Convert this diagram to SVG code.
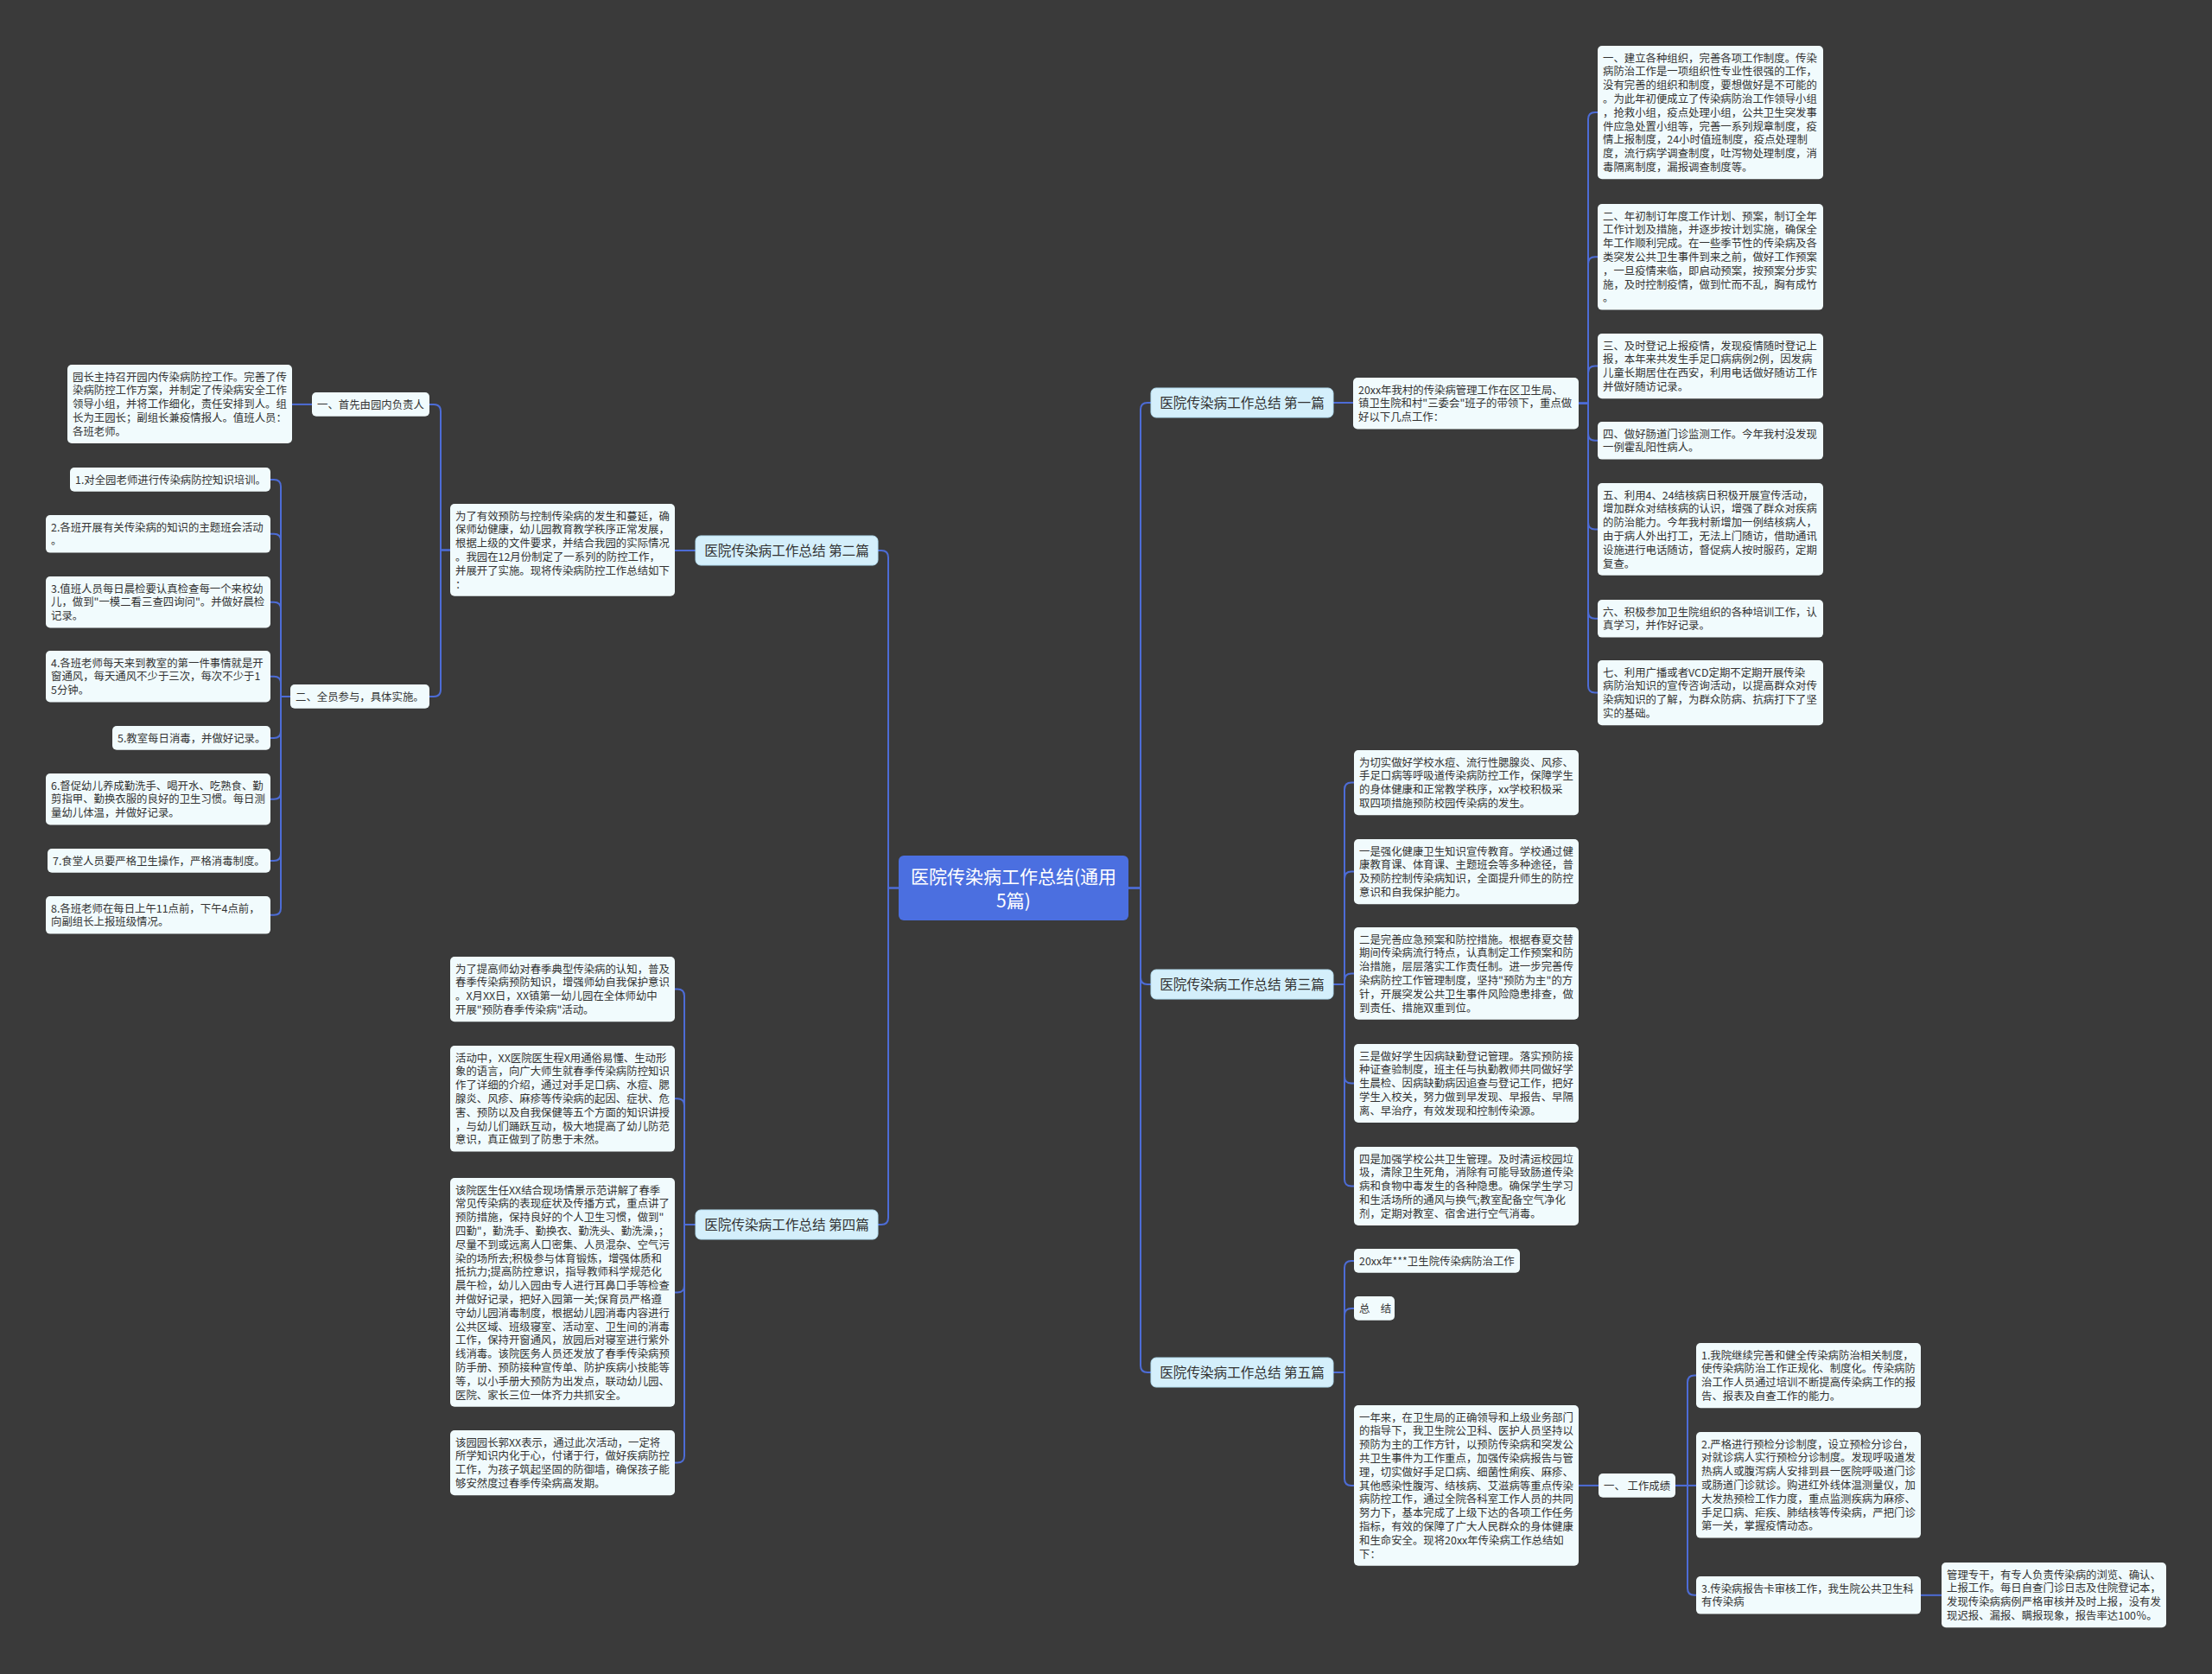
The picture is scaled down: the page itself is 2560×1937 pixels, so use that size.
<svg xmlns="http://www.w3.org/2000/svg" width="2560" height="1937" viewBox="0 0 2560 1937">
<style>
.bg{fill:#3a3a3a}
.box{fill:#f1fbfd}
.l1{fill:#d4effb;stroke:#b5def1;stroke-width:1}
.root{fill:#4b6fe0}
.t{font-family:"Noto Sans CJK SC","Microsoft YaHei",sans-serif;font-size:12.4px;fill:#333}
.tl1{font-family:"Noto Sans CJK SC","Microsoft YaHei",sans-serif;font-size:15.6px;fill:#333;text-anchor:middle}
.troot{font-family:"Noto Sans CJK SC","Microsoft YaHei",sans-serif;font-size:21px;fill:#fff;text-anchor:middle}
.c{fill:none;stroke:#4d6cd6;stroke-width:2}
</style>
<rect class="bg" x="0" y="0" width="2560" height="1937"/>
<g id="connectors">
<path class="c" d="M1306 1027.5 H1320 V474 Q1320 466 1328 466 H1332"/>
<path class="c" d="M1306 1027.5 H1320 V1131 Q1320 1139 1328 1139 H1332"/>
<path class="c" d="M1306 1027.5 H1320 V1580 Q1320 1588 1328 1588 H1332"/>
<path class="c" d="M1040 1027.5 H1028 V645 Q1028 637 1020 637 H1016"/>
<path class="c" d="M1040 1027.5 H1028 V1409 Q1028 1417 1020 1417 H1016"/>
<path class="c" d="M1543 466 H1566"/>
<path class="c" d="M1827 466.7 H1838 V138.1 Q1838 130.1 1846 130.1 H1849"/>
<path class="c" d="M1827 466.7 H1838 V305.3 Q1838 297.3 1846 297.3 H1849"/>
<path class="c" d="M1827 466.7 H1838 V431.6 Q1838 423.6 1846 423.6 H1849"/>
<path class="c" d="M1827 466.7 H1838 V501.8 Q1838 509.8 1846 509.8 H1849"/>
<path class="c" d="M1827 466.7 H1838 V604.4 Q1838 612.4 1846 612.4 H1849"/>
<path class="c" d="M1827 466.7 H1838 V707.8 Q1838 715.8 1846 715.8 H1849"/>
<path class="c" d="M1827 466.7 H1838 V793.6 Q1838 801.6 1846 801.6 H1849"/>
<path class="c" d="M805 637 H781"/>
<path class="c" d="M521 636.4 H510 V475.9 Q510 467.9 502 467.9 H497"/>
<path class="c" d="M521 636.4 H510 V797.9 Q510 805.9 502 805.9 H497"/>
<path class="c" d="M361 467.9 H338"/>
<path class="c" d="M336 805.9 H325 V562.9 Q325 554.9 317 554.9 H313"/>
<path class="c" d="M336 805.9 H325 V625.8 Q325 617.8 317 617.8 H313"/>
<path class="c" d="M336 805.9 H325 V704.7 Q325 696.7 317 696.7 H313"/>
<path class="c" d="M336 805.9 H325 V790.7 Q325 782.7 317 782.7 H313"/>
<path class="c" d="M336 805.9 H325 V845.9 Q325 853.9 317 853.9 H313"/>
<path class="c" d="M336 805.9 H325 V916.7 Q325 924.7 317 924.7 H313"/>
<path class="c" d="M336 805.9 H325 V987.9 Q325 995.9 317 995.9 H313"/>
<path class="c" d="M336 805.9 H325 V1050.8 Q325 1058.8 317 1058.8 H313"/>
<path class="c" d="M805 1417 H792 V1152.6 Q792 1144.6 784 1144.6 H781"/>
<path class="c" d="M805 1417 H792 V1279.3 Q792 1271.3 784 1271.3 H781"/>
<path class="c" d="M805 1417 H792 V1487.4 Q792 1495.4 784 1495.4 H781"/>
<path class="c" d="M805 1417 H792 V1684.6 Q792 1692.6 784 1692.6 H781"/>
<path class="c" d="M1543 1139 H1556 V913.6 Q1556 905.6 1564 905.6 H1567"/>
<path class="c" d="M1543 1139 H1556 V1016.6 Q1556 1008.6 1564 1008.6 H1567"/>
<path class="c" d="M1543 1139 H1556 V1134.4 Q1556 1126.4 1564 1126.4 H1567"/>
<path class="c" d="M1543 1139 H1556 V1245.5 Q1556 1253.5 1564 1253.5 H1567"/>
<path class="c" d="M1543 1139 H1556 V1364.5 Q1556 1372.5 1564 1372.5 H1567"/>
<path class="c" d="M1543 1588 H1556 V1466.9 Q1556 1458.9 1564 1458.9 H1567"/>
<path class="c" d="M1543 1588 H1556 V1521.9 Q1556 1513.9 1564 1513.9 H1567"/>
<path class="c" d="M1543 1588 H1556 V1710.9 Q1556 1718.9 1564 1718.9 H1567"/>
<path class="c" d="M1827 1718.9 H1850"/>
<path class="c" d="M1939 1718.9 H1953 V1599.6 Q1953 1591.6 1961 1591.6 H1963"/>
<path class="c" d="M1939 1718.9 H1963"/>
<path class="c" d="M1939 1718.9 H1953 V1837.8 Q1953 1845.8 1961 1845.8 H1963"/>
<path class="c" d="M2223 1845.8 H2247"/>
</g>

<g id="root">
<rect class="root" x="1040" y="990" width="266" height="75" rx="6"/>
<text class="troot" x="1173" y="1021.7"><tspan x="1173" dy="0">医院传染病工作总结(通用</tspan><tspan x="1173" dy="28">5篇)</tspan></text>
</g>

<g id="n-p1">
<rect class="l1" x="1332" y="449" width="211" height="34" rx="6"/>
<text class="tl1" x="1437.5" y="471.5">医院传染病工作总结 第一篇</text>
</g>
<g id="n-p3">
<rect class="l1" x="1332" y="1122" width="211" height="34" rx="6"/>
<text class="tl1" x="1437.5" y="1144.5">医院传染病工作总结 第三篇</text>
</g>
<g id="n-p5">
<rect class="l1" x="1332" y="1571" width="211" height="34" rx="6"/>
<text class="tl1" x="1437.5" y="1593.5">医院传染病工作总结 第五篇</text>
</g>
<g id="n-p2">
<rect class="l1" x="805" y="620" width="211" height="34" rx="6"/>
<text class="tl1" x="910.5" y="642.5">医院传染病工作总结 第二篇</text>
</g>
<g id="n-p4">
<rect class="l1" x="805" y="1400" width="211" height="34" rx="6"/>
<text class="tl1" x="910.5" y="1422.5">医院传染病工作总结 第四篇</text>
</g>

<g id="n-intro1">
<rect class="box" x="1566" y="437" width="261" height="59.4" rx="5"/>
<text class="t" x="1572" y="455.5"><tspan x="1572" dy="0">20xx年我村的传染病管理工作在区卫生局、</tspan><tspan x="1572" dy="15.8">镇卫生院和村"三委会"班子的带领下，重点做</tspan><tspan x="1572" dy="15.8">好以下几点工作：</tspan></text>
</g>
<g id="n-r1">
<rect class="box" x="1849" y="53" width="261" height="154.2" rx="5"/>
<text class="t" x="1855" y="71.5"><tspan x="1855" dy="0">一、建立各种组织，完善各项工作制度。传染</tspan><tspan x="1855" dy="15.8">病防治工作是一项组织性专业性很强的工作，</tspan><tspan x="1855" dy="15.8">没有完善的组织和制度，要想做好是不可能的</tspan><tspan x="1855" dy="15.8">。为此年初便成立了传染病防治工作领导小组</tspan><tspan x="1855" dy="15.8">，抢救小组，疫点处理小组，公共卫生突发事</tspan><tspan x="1855" dy="15.8">件应急处置小组等，完善一系列规章制度，疫</tspan><tspan x="1855" dy="15.8">情上报制度，24小时值班制度，疫点处理制</tspan><tspan x="1855" dy="15.8">度，流行病学调查制度，吐泻物处理制度，消</tspan><tspan x="1855" dy="15.8">毒隔离制度，漏报调查制度等。</tspan></text>
</g>
<g id="n-r2">
<rect class="box" x="1849" y="236" width="261" height="122.6" rx="5"/>
<text class="t" x="1855" y="254.5"><tspan x="1855" dy="0">二、年初制订年度工作计划、预案，制订全年</tspan><tspan x="1855" dy="15.8">工作计划及措施，并逐步按计划实施，确保全</tspan><tspan x="1855" dy="15.8">年工作顺利完成。在一些季节性的传染病及各</tspan><tspan x="1855" dy="15.8">类突发公共卫生事件到来之前，做好工作预案</tspan><tspan x="1855" dy="15.8">，一旦疫情来临，即启动预案，按预案分步实</tspan><tspan x="1855" dy="15.8">施，及时控制疫情，做到忙而不乱，胸有成竹</tspan><tspan x="1855" dy="15.8">。</tspan></text>
</g>
<g id="n-r3">
<rect class="box" x="1849" y="386" width="261" height="75.2" rx="5"/>
<text class="t" x="1855" y="404.5"><tspan x="1855" dy="0">三、及时登记上报疫情，发现疫情随时登记上</tspan><tspan x="1855" dy="15.8">报，本年来共发生手足口病病例2例，因发病</tspan><tspan x="1855" dy="15.8">儿童长期居住在西安，利用电话做好随访工作</tspan><tspan x="1855" dy="15.8">并做好随访记录。</tspan></text>
</g>
<g id="n-r4">
<rect class="box" x="1849" y="488" width="261" height="43.6" rx="5"/>
<text class="t" x="1855" y="506.5"><tspan x="1855" dy="0">四、做好肠道门诊监测工作。今年我村没发现</tspan><tspan x="1855" dy="15.8">一例霍乱阳性病人。</tspan></text>
</g>
<g id="n-r5">
<rect class="box" x="1849" y="559" width="261" height="106.8" rx="5"/>
<text class="t" x="1855" y="577.5"><tspan x="1855" dy="0">五、利用4、24结核病日积极开展宣传活动，</tspan><tspan x="1855" dy="15.8">增加群众对结核病的认识，增强了群众对疾病</tspan><tspan x="1855" dy="15.8">的防治能力。今年我村新增加一例结核病人，</tspan><tspan x="1855" dy="15.8">由于病人外出打工，无法上门随访，借助通讯</tspan><tspan x="1855" dy="15.8">设施进行电话随访，督促病人按时服药，定期</tspan><tspan x="1855" dy="15.8">复查。</tspan></text>
</g>
<g id="n-r6">
<rect class="box" x="1849" y="694" width="261" height="43.6" rx="5"/>
<text class="t" x="1855" y="712.5"><tspan x="1855" dy="0">六、积极参加卫生院组织的各种培训工作，认</tspan><tspan x="1855" dy="15.8">真学习，并作好记录。</tspan></text>
</g>
<g id="n-r7">
<rect class="box" x="1849" y="764" width="261" height="75.2" rx="5"/>
<text class="t" x="1855" y="782.5"><tspan x="1855" dy="0">七、利用广播或者VCD定期不定期开展传染</tspan><tspan x="1855" dy="15.8">病防治知识的宣传咨询活动，以提高群众对传</tspan><tspan x="1855" dy="15.8">染病知识的了解，为群众防病、抗病打下了坚</tspan><tspan x="1855" dy="15.8">实的基础。</tspan></text>
</g>

<g id="n-intro2">
<rect class="box" x="521" y="583" width="260" height="106.8" rx="5"/>
<text class="t" x="527" y="601.5"><tspan x="527" dy="0">为了有效预防与控制传染病的发生和蔓延，确</tspan><tspan x="527" dy="15.8">保师幼健康，幼儿园教育教学秩序正常发展，</tspan><tspan x="527" dy="15.8">根据上级的文件要求，并结合我园的实际情况</tspan><tspan x="527" dy="15.8">。我园在12月份制定了一系列的防控工作，</tspan><tspan x="527" dy="15.8">并展开了实施。现将传染病防控工作总结如下</tspan><tspan x="527" dy="15.8">：</tspan></text>
</g>
<g id="n-first">
<rect class="box" x="361" y="454" width="136" height="27.8" rx="5"/>
<text class="t" x="367" y="472.5">一、首先由园内负责人</text>
</g>
<g id="n-head">
<rect class="box" x="78" y="422" width="260" height="91" rx="5"/>
<text class="t" x="84" y="440.5"><tspan x="84" dy="0">园长主持召开园内传染病防控工作。完善了传</tspan><tspan x="84" dy="15.8">染病防控工作方案，并制定了传染病安全工作</tspan><tspan x="84" dy="15.8">领导小组，并将工作细化，责任安排到人。组</tspan><tspan x="84" dy="15.8">长为王园长；副组长兼疫情报人。值班人员：</tspan><tspan x="84" dy="15.8">各班老师。</tspan></text>
</g>
<g id="n-second">
<rect class="box" x="336" y="792" width="161" height="27.8" rx="5"/>
<text class="t" x="342" y="810.5">二、全员参与，具体实施。</text>
</g>
<g id="n-q1">
<rect class="box" x="81" y="541" width="232" height="27.8" rx="5"/>
<text class="t" x="87" y="559.5">1.对全园老师进行传染病防控知识培训。</text>
</g>
<g id="n-q2">
<rect class="box" x="53" y="596" width="260" height="43.6" rx="5"/>
<text class="t" x="59" y="614.5"><tspan x="59" dy="0">2.各班开展有关传染病的知识的主题班会活动</tspan><tspan x="59" dy="15.8">。</tspan></text>
</g>
<g id="n-q3">
<rect class="box" x="53" y="667" width="260" height="59.4" rx="5"/>
<text class="t" x="59" y="685.5"><tspan x="59" dy="0">3.值班人员每日晨检要认真检查每一个来校幼</tspan><tspan x="59" dy="15.8">儿，做到"一模二看三查四询问"。并做好晨检</tspan><tspan x="59" dy="15.8">记录。</tspan></text>
</g>
<g id="n-q4">
<rect class="box" x="53" y="753" width="260" height="59.4" rx="5"/>
<text class="t" x="59" y="771.5"><tspan x="59" dy="0">4.各班老师每天来到教室的第一件事情就是开</tspan><tspan x="59" dy="15.8">窗通风，每天通风不少于三次，每次不少于1</tspan><tspan x="59" dy="15.8">5分钟。</tspan></text>
</g>
<g id="n-q5">
<rect class="box" x="130" y="840" width="183" height="27.8" rx="5"/>
<text class="t" x="136" y="858.5">5.教室每日消毒，并做好记录。</text>
</g>
<g id="n-q6">
<rect class="box" x="53" y="895" width="260" height="59.4" rx="5"/>
<text class="t" x="59" y="913.5"><tspan x="59" dy="0">6.督促幼儿养成勤洗手、喝开水、吃熟食、勤</tspan><tspan x="59" dy="15.8">剪指甲、勤换衣服的良好的卫生习惯。每日测</tspan><tspan x="59" dy="15.8">量幼儿体温，并做好记录。</tspan></text>
</g>
<g id="n-q7">
<rect class="box" x="55" y="982" width="258" height="27.8" rx="5"/>
<text class="t" x="61" y="1000.5">7.食堂人员要严格卫生操作，严格消毒制度。</text>
</g>
<g id="n-q8">
<rect class="box" x="53" y="1037" width="260" height="43.6" rx="5"/>
<text class="t" x="59" y="1055.5"><tspan x="59" dy="0">8.各班老师在每日上午11点前，下午4点前，</tspan><tspan x="59" dy="15.8">向副组长上报班级情况。</tspan></text>
</g>

<g id="n-a">
<rect class="box" x="521" y="1107" width="260" height="75.2" rx="5"/>
<text class="t" x="527" y="1125.5"><tspan x="527" dy="0">为了提高师幼对春季典型传染病的认知，普及</tspan><tspan x="527" dy="15.8">春季传染病预防知识，增强师幼自我保护意识</tspan><tspan x="527" dy="15.8">。X月XX日，XX镇第一幼儿园在全体师幼中</tspan><tspan x="527" dy="15.8">开展"预防春季传染病"活动。</tspan></text>
</g>
<g id="n-b">
<rect class="box" x="521" y="1210" width="260" height="122.6" rx="5"/>
<text class="t" x="527" y="1228.5"><tspan x="527" dy="0">活动中，XX医院医生程X用通俗易懂、生动形</tspan><tspan x="527" dy="15.8">象的语言，向广大师生就春季传染病防控知识</tspan><tspan x="527" dy="15.8">作了详细的介绍，通过对手足口病、水痘、腮</tspan><tspan x="527" dy="15.8">腺炎、风疹、麻疹等传染病的起因、症状、危</tspan><tspan x="527" dy="15.8">害、预防以及自我保健等五个方面的知识讲授</tspan><tspan x="527" dy="15.8">，与幼儿们踊跃互动，极大地提高了幼儿防范</tspan><tspan x="527" dy="15.8">意识，真正做到了防患于未然。</tspan></text>
</g>
<g id="n-c">
<rect class="box" x="521" y="1363" width="260" height="264.8" rx="5"/>
<text class="t" x="527" y="1381.5"><tspan x="527" dy="0">该院医生任XX结合现场情景示范讲解了春季</tspan><tspan x="527" dy="15.8">常见传染病的表现症状及传播方式，重点讲了</tspan><tspan x="527" dy="15.8">预防措施，保持良好的个人卫生习惯，做到"</tspan><tspan x="527" dy="15.8">四勤"，勤洗手、勤换衣、勤洗头、勤洗澡，；</tspan><tspan x="527" dy="15.8">尽量不到或远离人口密集、人员混杂、空气污</tspan><tspan x="527" dy="15.8">染的场所去;积极参与体育锻炼，增强体质和</tspan><tspan x="527" dy="15.8">抵抗力;提高防控意识，指导教师科学规范化</tspan><tspan x="527" dy="15.8">晨午检，幼儿入园由专人进行耳鼻口手等检查</tspan><tspan x="527" dy="15.8">并做好记录，把好入园第一关;保育员严格遵</tspan><tspan x="527" dy="15.8">守幼儿园消毒制度，根据幼儿园消毒内容进行</tspan><tspan x="527" dy="15.8">公共区域、班级寝室、活动室、卫生间的消毒</tspan><tspan x="527" dy="15.8">工作，保持开窗通风，放园后对寝室进行紫外</tspan><tspan x="527" dy="15.8">线消毒。该院医务人员还发放了春季传染病预</tspan><tspan x="527" dy="15.8">防手册、预防接种宣传单、防护疾病小技能等</tspan><tspan x="527" dy="15.8">等，以小手册大预防为出发点，联动幼儿园、</tspan><tspan x="527" dy="15.8">医院、家长三位一体齐力共抓安全。</tspan></text>
</g>
<g id="n-d">
<rect class="box" x="521" y="1655" width="260" height="75.2" rx="5"/>
<text class="t" x="527" y="1673.5"><tspan x="527" dy="0">该园园长郭XX表示，通过此次活动，一定将</tspan><tspan x="527" dy="15.8">所学知识内化于心，付诸于行，做好疾病防控</tspan><tspan x="527" dy="15.8">工作，为孩子筑起坚固的防御墙，确保孩子能</tspan><tspan x="527" dy="15.8">够安然度过春季传染病高发期。</tspan></text>
</g>

<g id="n-s1">
<rect class="box" x="1567" y="868" width="260" height="75.2" rx="5"/>
<text class="t" x="1573" y="886.5"><tspan x="1573" dy="0">为切实做好学校水痘、流行性腮腺炎、风疹、</tspan><tspan x="1573" dy="15.8">手足口病等呼吸道传染病防控工作，保障学生</tspan><tspan x="1573" dy="15.8">的身体健康和正常教学秩序，xx学校积极采</tspan><tspan x="1573" dy="15.8">取四项措施预防校园传染病的发生。</tspan></text>
</g>
<g id="n-s2">
<rect class="box" x="1567" y="971" width="260" height="75.2" rx="5"/>
<text class="t" x="1573" y="989.5"><tspan x="1573" dy="0">一是强化健康卫生知识宣传教育。学校通过健</tspan><tspan x="1573" dy="15.8">康教育课、体育课、主题班会等多种途径，普</tspan><tspan x="1573" dy="15.8">及预防控制传染病知识，全面提升师生的防控</tspan><tspan x="1573" dy="15.8">意识和自我保护能力。</tspan></text>
</g>
<g id="n-s3">
<rect class="box" x="1567" y="1073" width="260" height="106.8" rx="5"/>
<text class="t" x="1573" y="1091.5"><tspan x="1573" dy="0">二是完善应急预案和防控措施。根据春夏交替</tspan><tspan x="1573" dy="15.8">期间传染病流行特点，认真制定工作预案和防</tspan><tspan x="1573" dy="15.8">治措施，层层落实工作责任制。进一步完善传</tspan><tspan x="1573" dy="15.8">染病防控工作管理制度，坚持"预防为主"的方</tspan><tspan x="1573" dy="15.8">针，开展突发公共卫生事件风险隐患排查，做</tspan><tspan x="1573" dy="15.8">到责任、措施双重到位。</tspan></text>
</g>
<g id="n-s4">
<rect class="box" x="1567" y="1208" width="260" height="91" rx="5"/>
<text class="t" x="1573" y="1226.5"><tspan x="1573" dy="0">三是做好学生因病缺勤登记管理。落实预防接</tspan><tspan x="1573" dy="15.8">种证查验制度，班主任与执勤教师共同做好学</tspan><tspan x="1573" dy="15.8">生晨检、因病缺勤病因追查与登记工作，把好</tspan><tspan x="1573" dy="15.8">学生入校关，努力做到早发现、早报告、早隔</tspan><tspan x="1573" dy="15.8">离、早治疗，有效发现和控制传染源。</tspan></text>
</g>
<g id="n-s5">
<rect class="box" x="1567" y="1327" width="260" height="91" rx="5"/>
<text class="t" x="1573" y="1345.5"><tspan x="1573" dy="0">四是加强学校公共卫生管理。及时清运校园垃</tspan><tspan x="1573" dy="15.8">圾，清除卫生死角，消除有可能导致肠道传染</tspan><tspan x="1573" dy="15.8">病和食物中毒发生的各种隐患。确保学生学习</tspan><tspan x="1573" dy="15.8">和生活场所的通风与换气;教室配备空气净化</tspan><tspan x="1573" dy="15.8">剂，定期对教室、宿舍进行空气消毒。</tspan></text>
</g>

<g id="n-t1">
<rect class="box" x="1567" y="1445" width="192" height="27.8" rx="5"/>
<text class="t" x="1573" y="1463.5">20xx年***卫生院传染病防治工作</text>
</g>
<g id="n-t2">
<rect class="box" x="1567" y="1500" width="47" height="27.8" rx="5"/>
<text class="t" x="1573" y="1518.5">总　结</text>
</g>
<g id="n-t3">
<rect class="box" x="1567" y="1626" width="260" height="185.8" rx="5"/>
<text class="t" x="1573" y="1644.5"><tspan x="1573" dy="0">一年来，在卫生局的正确领导和上级业务部门</tspan><tspan x="1573" dy="15.8">的指导下，我卫生院公卫科、医护人员坚持以</tspan><tspan x="1573" dy="15.8">预防为主的工作方针，以预防传染病和突发公</tspan><tspan x="1573" dy="15.8">共卫生事件为工作重点，加强传染病报告与管</tspan><tspan x="1573" dy="15.8">理，切实做好手足口病、细菌性痢疾、麻疹、</tspan><tspan x="1573" dy="15.8">其他感染性腹泻、结核病、艾滋病等重点传染</tspan><tspan x="1573" dy="15.8">病防控工作，通过全院各科室工作人员的共同</tspan><tspan x="1573" dy="15.8">努力下，基本完成了上级下达的各项工作任务</tspan><tspan x="1573" dy="15.8">指标，有效的保障了广大人民群众的身体健康</tspan><tspan x="1573" dy="15.8">和生命安全。现将20xx年传染病工作总结如</tspan><tspan x="1573" dy="15.8">下：</tspan></text>
</g>
<g id="n-w">
<rect class="box" x="1850" y="1705" width="89" height="27.8" rx="5"/>
<text class="t" x="1856" y="1723.5">一、 工作成绩</text>
</g>
<g id="n-u1">
<rect class="box" x="1963" y="1554" width="260" height="75.2" rx="5"/>
<text class="t" x="1969" y="1572.5"><tspan x="1969" dy="0">1.我院继续完善和健全传染病防治相关制度，</tspan><tspan x="1969" dy="15.8">使传染病防治工作正规化、制度化。传染病防</tspan><tspan x="1969" dy="15.8">治工作人员通过培训不断提高传染病工作的报</tspan><tspan x="1969" dy="15.8">告、报表及自查工作的能力。</tspan></text>
</g>
<g id="n-u2">
<rect class="box" x="1963" y="1657" width="260" height="122.6" rx="5"/>
<text class="t" x="1969" y="1675.5"><tspan x="1969" dy="0">2.严格进行预检分诊制度，设立预检分诊台，</tspan><tspan x="1969" dy="15.8">对就诊病人实行预检分诊制度。发现呼吸道发</tspan><tspan x="1969" dy="15.8">热病人或腹泻病人安排到县一医院呼吸道门诊</tspan><tspan x="1969" dy="15.8">或肠道门诊就诊。购进红外线体温测量仪，加</tspan><tspan x="1969" dy="15.8">大发热预检工作力度，重点监测疾病为麻疹、</tspan><tspan x="1969" dy="15.8">手足口病、疟疾、肺结核等传染病，严把门诊</tspan><tspan x="1969" dy="15.8">第一关，掌握疫情动态。</tspan></text>
</g>
<g id="n-u3">
<rect class="box" x="1963" y="1824" width="260" height="43.6" rx="5"/>
<text class="t" x="1969" y="1842.5"><tspan x="1969" dy="0">3.传染病报告卡审核工作，我生院公共卫生科</tspan><tspan x="1969" dy="15.8">有传染病</tspan></text>
</g>
<g id="n-u4">
<rect class="box" x="2247" y="1808" width="260" height="75.2" rx="5"/>
<text class="t" x="2253" y="1826.5"><tspan x="2253" dy="0">管理专干，有专人负责传染病的浏览、确认、</tspan><tspan x="2253" dy="15.8">上报工作。每日自查门诊日志及住院登记本，</tspan><tspan x="2253" dy="15.8">发现传染病病例严格审核并及时上报，没有发</tspan><tspan x="2253" dy="15.8">现迟报、漏报、瞒报现象，报告率达100％。</tspan></text>
</g>
</svg>
